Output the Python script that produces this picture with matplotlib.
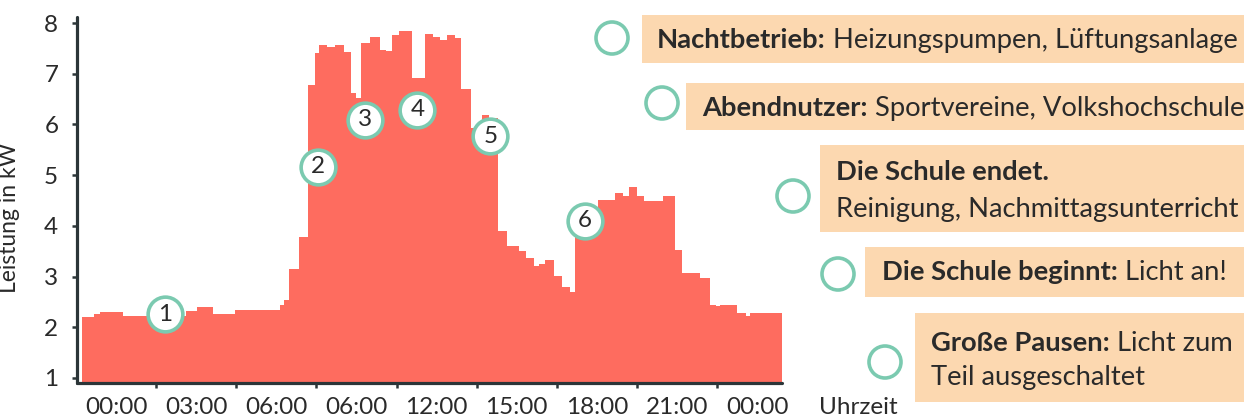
import matplotlib
matplotlib.use("Agg")
import matplotlib.pyplot as plt
from matplotlib.patches import Rectangle, Circle

# ---------------- data ----------------
step_start_hours = [-1.28, -0.81, -0.60, 0.27, 2.62, 3.05, 3.64, 4.46, 6.14, 6.29,
                    6.48, 6.84, 7.20, 7.45, 7.58, 7.89, 8.20, 8.55, 8.79, 8.99,
                    9.16, 9.51, 9.89, 10.11, 10.34, 10.61, 11.07, 11.57, 11.88, 12.13,
                    12.38, 12.70, 12.92, 13.28, 13.70, 13.98, 14.30, 14.63, 15.07, 15.36,
                    15.63, 15.85, 16.04, 16.38, 16.69, 16.98, 17.19, 18.06, 18.69, 18.98,
                    19.19, 19.52, 19.75, 20.49, 20.94, 21.18, 21.87, 22.25, 22.47, 22.62,
                    23.25, 23.60, 23.75]
power_kw = [2.20, 2.26, 2.31, 2.23, 2.33, 2.39, 2.27, 2.34, 2.43, 2.54,
            3.14, 3.78, 6.78, 7.41, 7.57, 7.52, 7.57, 7.42, 6.62, 6.52,
            7.60, 7.73, 7.47, 7.44, 7.77, 7.85, 6.91, 7.78, 7.73, 7.66,
            7.77, 7.70, 6.69, 5.93, 6.19, 6.13, 3.89, 3.60, 3.51, 3.36,
            3.20, 3.25, 3.33, 3.01, 2.80, 2.70, 3.82, 4.51, 4.65, 4.58,
            4.77, 4.58, 4.50, 4.58, 3.52, 3.07, 2.97, 2.44, 2.41, 2.44,
            2.29, 2.22, 2.29]
series_end_hour = 24.93

x_tick_hours = [0, 3, 6, 9, 12, 15, 18, 21, 24]
x_tick_labels = ["00:00", "03:00", "06:00", "06:00", "12:00", "15:00", "18:00", "21:00", "00:00"]
y_ticks = [1, 2, 3, 4, 5, 6, 7, 8]

marker_labels = ["1", "2", "3", "4", "5", "6"]
marker_hours = [1.84, 7.55, 9.33, 11.28, 14.01, 17.54]
marker_kw = [2.26, 5.17, 6.09, 6.29, 5.77, 4.10]

legend_lines = [
    [("Nachtbetrieb:", "Heizungspumpen, Lüftungsanlage")],
    [("Abendnutzer:", "Sportvereine, Volkshochschule")],
    [("Die Schule endet.", ""), ("", "Reinigung, Nachmittagsunterricht")],
    [("Die Schule beginnt:", "Licht an!")],
    [("Große Pausen:", "Licht zum"), ("", "Teil ausgeschaltet")],
]

# ---------------- style ----------------
W, H = 1244, 419
BAR = "#FE6C5F"
BOX = "#FCD8B0"
TEAL = "#7BCAB0"
INK = "#2a2a2a"
AXC = "#2b3538"
FONT = "Lato"
TICKFS = 17.5

fig = plt.figure(figsize=(W / 100, H / 100), dpi=100)
ax = fig.add_axes([77 / W, 36 / H, (782 - 77) / W, (383 - 17) / H])

xs = step_start_hours + [series_end_hour]
ys = power_kw + [power_kw[-1]]
ax.fill_between(xs, ys, 0, step="post", color=BAR, lw=0, zorder=2)

ax.set_xlim(-1.46, 24.93)
ax.set_ylim(0.90, 8.12)

for s in ["top", "right"]:
    ax.spines[s].set_visible(False)
for s in ["left", "bottom"]:
    ax.spines[s].set_color(AXC)
    ax.spines[s].set_linewidth(2.3)
    ax.spines[s].set_capstyle("round")
    ax.spines[s].set_zorder(3)

ax.set_yticks(y_ticks)
ax.set_yticklabels([str(v) for v in y_ticks])
ax.tick_params(axis="y", length=3.5, width=1.8, color=AXC, pad=10,
               labelsize=TICKFS, labelcolor=INK)
ax.set_xticks(x_tick_hours)
ax.set_xticklabels(x_tick_labels)
ax.set_xticks([1.5 + 3 * k for k in range(8)], minor=True)
ax.tick_params(axis="x", which="major", length=0, pad=10, labelsize=TICKFS, labelcolor=INK)
ax.tick_params(axis="x", which="minor", length=3.5, width=1.8, color=AXC)
for lab in ax.get_xticklabels() + ax.get_yticklabels():
    lab.set_fontfamily(FONT)

ax.set_ylabel("Leistung in kW", fontsize=16.5, color=INK, family=FONT)
ax.yaxis.set_label_coords((20 - 77) / 705, (383 - 217.5) / 366)

# numbered markers
for lab, hx, kv in zip(marker_labels, marker_hours, marker_kw):
    ax.plot([hx], [kv], "o", ms=25, mfc="white", mec=TEAL, mew=2.6, zorder=5, clip_on=False)
    ax.text(hx, kv, lab, ha="center", va="center", fontsize=17.5, color=INK,
            family=FONT, zorder=6)

# ---------------- overlay in pixel coordinates ----------------
ov = fig.add_axes([0, 0, 1, 1], zorder=10)
ov.set_xlim(0, W)
ov.set_ylim(H, 0)
ov.axis("off")
ov.patch.set_visible(False)

ov.text(858, 407, "Uhrzeit", ha="center", va="center", fontsize=17.5, color=INK, family=FONT)

boxes = [(642, 15, 63), (686, 83, 130), (820, 145, 232), (865, 247, 297), (915, 313, 402)]
circles = [(612, 38), (662, 103), (793, 196), (838, 274), (885, 362)]
text_x = [657, 702, 836, 882, 931]
baselines = [[48], [116], [180, 217], [280], [351, 385]]

for (x0, t, b) in boxes:
    ov.add_patch(Rectangle((x0, t), W - x0, b - t, color=BOX, lw=0))
for (cx, cy) in circles:
    ov.add_patch(Circle((cx, cy), 16, facecolor="white", edgecolor=TEAL, lw=2.6))

renderer = fig.canvas.get_renderer()

def width_px(t):
    return t.get_window_extent(renderer).width

fs0 = 18
probe_b = ov.text(0, 0, legend_lines[0][0][0], fontsize=fs0, fontweight="bold", family=FONT)
probe_r = ov.text(0, 0, legend_lines[0][0][1], fontsize=fs0, family=FONT)
w0 = width_px(probe_b) + 0.27 * fs0 * 100 / 72 + width_px(probe_r)
probe_b.remove()
probe_r.remove()
fs = fs0 * (1238 - 657) / w0

for item, tx, bls in zip(legend_lines, text_x, baselines):
    for (bold, reg), by in zip(item, bls):
        x = tx
        if bold:
            tb = ov.text(x, by, bold, fontsize=fs, fontweight="bold", color=INK,
                         family=FONT, va="baseline", ha="left")
            x += width_px(tb) + 0.27 * fs * 100 / 72
        if reg:
            ov.text(x, by, reg, fontsize=fs, color=INK, family=FONT, va="baseline", ha="left")

fig.savefig("out.png", dpi=100)
